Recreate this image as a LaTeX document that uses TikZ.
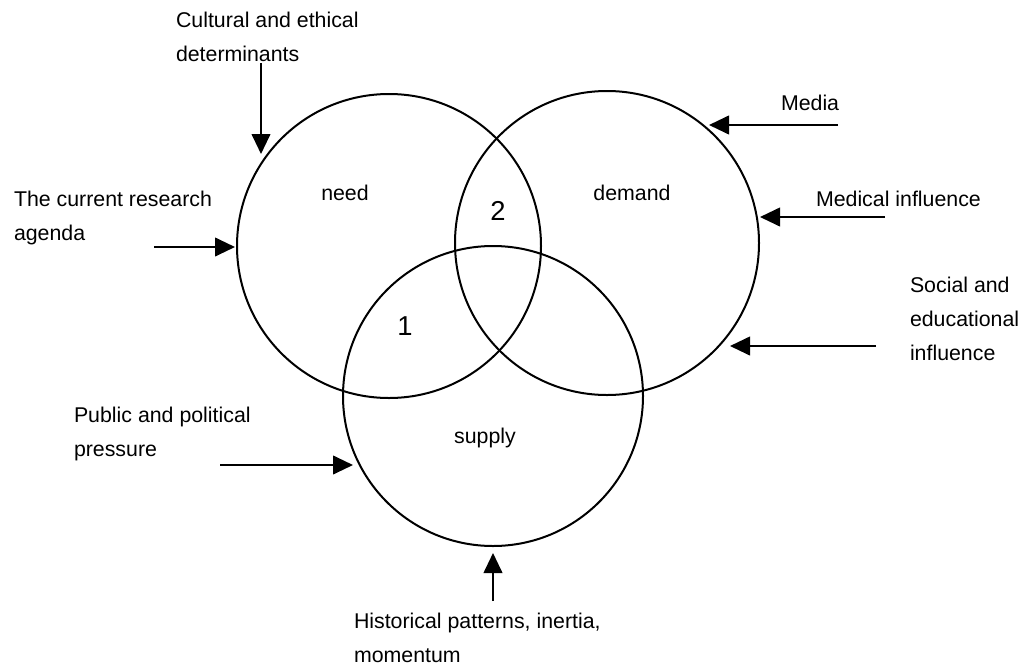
\documentclass[tikz,border=0pt]{standalone}
\usepackage{fontspec}
\setmainfont{Liberation Sans}
\usetikzlibrary{arrows.meta}

\tikzset{every picture/.style={line width=1.5pt}}
\tikzset{
  influence/.style={-{Triangle[length=15pt,width=14pt]}},
  setcircle/.style={draw,circle,inner sep=0pt},
  sidetext/.style={anchor=north west,inner sep=0.75pt,align=left,font=\fontsize{16}{25.5}\selectfont},
  settext/.style={inner sep=0.75pt,font=\fontsize{16}{25.5}\selectfont},
  overlaptext/.style={inner sep=0.75pt,font=\fontsize{20.5}{24}\selectfont}
}

\begin{document}
\begin{tikzpicture}[x=0.75pt,y=0.75pt,yscale=-1,xscale=1]
\useasboundingbox (0,0) rectangle (1025,668);

% Circles
\node [setcircle, minimum size=228pt] (need) at (389,246) {};
\node [setcircle, minimum size=228pt] (demand) at (607,243) {};
\node [setcircle, minimum size=225pt] (supply) at (493,396) {};

% Circle labels
\node [settext] (needlbl) at (345,193) {need};
\node [settext] (demandlbl) at (632,193) {demand};
\node [settext] (supplylbl) at (485,438) {supply};
\node [overlaptext] (zonetwo) at (498,211) {2};
\node [overlaptext] (zoneone) at (405,326) {1};

% Influences
\node [sidetext] (cultural) at (174,10) {Cultural and ethical\\determinants};
\node [sidetext] (research) at (12,189) {The current research\\agenda};
\node [sidetext] (media) at (779,93) {Media};
\node [sidetext] (medical) at (814,189) {Medical influence};
\node [sidetext] (social) at (908,275) {Social and\\educational\\influence};
\node [sidetext] (public) at (72,405) {Public and political\\pressure};
\node [sidetext] (historical) at (352,611) {Historical patterns, inertia,\\momentum};

% Arrow ends
\coordinate (culturalA) at (261,63);
\coordinate (culturalB) at (261,154);
\coordinate (researchA) at (154,247);
\coordinate (researchB) at (235,247);
\coordinate (mediaA) at (838,125);
\coordinate (mediaB) at (709,125);
\coordinate (medicalA) at (885,217);
\coordinate (medicalB) at (760,217);
\coordinate (socialA) at (876,346);
\coordinate (socialB) at (730,346);
\coordinate (publicA) at (220,465);
\coordinate (publicB) at (353,465);
\coordinate (historicalA) at (493,601);
\coordinate (historicalB) at (493,553);

% Arrows
\draw [influence] (culturalA) -- (culturalB);
\draw [influence] (researchA) -- (researchB);
\draw [influence] (mediaA) -- (mediaB);
\draw [influence] (medicalA) -- (medicalB);
\draw [influence] (socialA) -- (socialB);
\draw [influence] (publicA) -- (publicB);
\draw [influence] (historicalA) -- (historicalB);

\end{tikzpicture}
\end{document}
